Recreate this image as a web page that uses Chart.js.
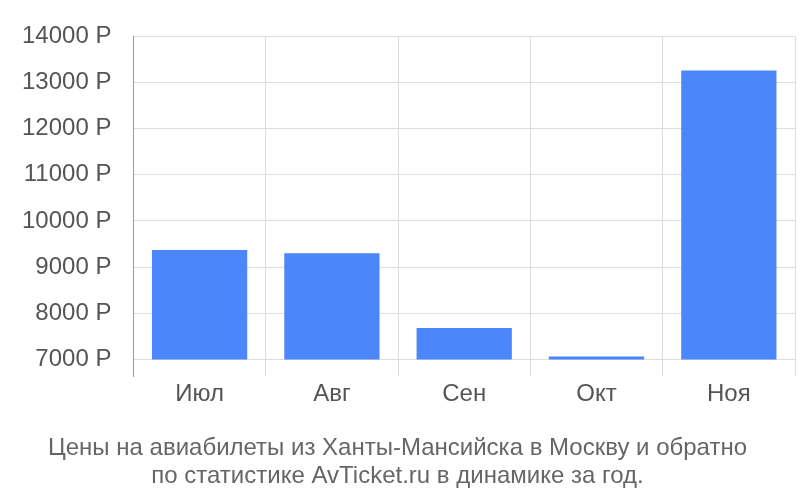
<!DOCTYPE html>
<html><head><meta charset="utf-8">
<script src="https://cdn.jsdelivr.net/npm/chart.js"></script>
<style>body{margin:0;background:#fff}#w{width:800px;height:500px}</style>
</head><body><div id="w"><canvas id="c"></canvas></div>
<script>
const categories = ["Июл","Авг","Сен","Окт","Ноя"];
const prices = [9370, 9300, 7680, 7060, 13260];
const baseValue = 7000;
const yTicks = [7000,8000,9000,10000,11000,12000,13000,14000];
new Chart(document.getElementById('c'), {
  type: 'bar',
  data: { labels: categories, datasets: [{ data: prices.map(v => [baseValue, v]), backgroundColor: '#4b87fb', barPercentage: 0.72, categoryPercentage: 1 }] },
  options: {
    responsive: true, maintainAspectRatio: false, animation: false,
    layout: { padding: { left: 0, right: 5, top: 4, bottom: 10 } },
    plugins: { legend: { display: false }, tooltip: { enabled: false },
      title: { display: true, position: 'bottom', text: ['Цены на авиабилеты из Ханты-Мансийска в Москву и обратно','по статистике AvTicket.ru в динамике за год.'],
        color: '#666', font: { family: 'Liberation Sans, Arial', size: 24, weight: 'normal', lineHeight: 1.15 }, padding: { top: 22, bottom: 0 } } },
    scales: {
      x: { grid: { color: '#ddd', offset: true, drawTicks: false }, border: { display: false },
        ticks: { color: '#555', font: { family: 'Liberation Sans, Arial', size: 24 }, padding: 4 } },
      y: { min: 6640, max: 14000, grid: { color: '#ddd', drawTicks: false }, border: { color: '#999' },
        afterBuildTicks: ax => { ax.ticks = yTicks.map(v => ({ value: v })); },
        ticks: { color: '#555', font: { family: 'Liberation Sans, Arial', size: 24 }, padding: 22, callback: v => v + ' Р' } }
    }
  }
});
</script></body></html>
